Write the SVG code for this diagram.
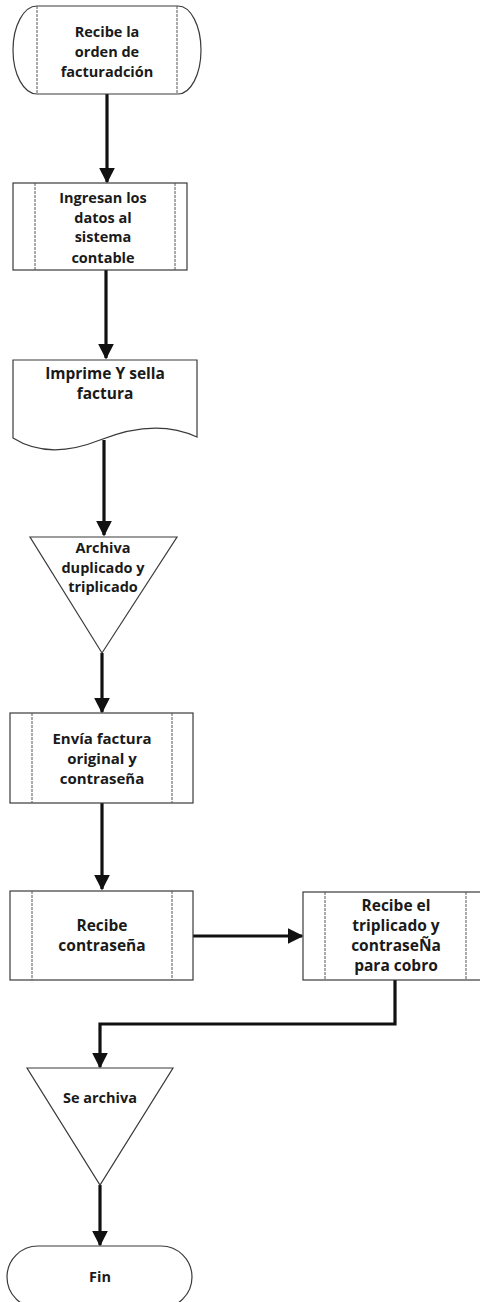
<svg xmlns="http://www.w3.org/2000/svg" width="480" height="1302" viewBox="0 0 480 1302">
  <style>
    .shape { fill: #ffffff; stroke: #3a3a3a; stroke-width: 1.2; }
    .inner { fill: none; stroke: #555555; stroke-width: 1; stroke-dasharray: 3 1; }
    .label { font-family: "Open Sans", Lato, "Liberation Sans", sans-serif; font-weight: bold; font-size: 14.5px; fill: #1a1a1a; text-anchor: middle; }
    .big { font-size: 15.5px; }
    .mid { font-size: 15px; }
    .flow { fill: none; stroke: #111111; stroke-width: 3.2; }
  </style>
  <defs>
    <marker id="arrow" viewBox="0 0 10 10" refX="9" refY="5" markerWidth="5" markerHeight="5" markerUnits="strokeWidth" orient="auto">
      <path d="M0,0 L10,5 L0,10 Z" fill="#111111"/>
    </marker>
  </defs>
  <rect width="480" height="1302" fill="#ffffff"/>

  <!-- connectors -->
  <g id="connectors">
    <path class="flow" d="M107,94 V182" marker-end="url(#arrow)"/>
    <path class="flow" d="M106,270 V358" marker-end="url(#arrow)"/>
    <path class="flow" d="M104,440 V535" marker-end="url(#arrow)"/>
    <path class="flow" d="M102,653 V712" marker-end="url(#arrow)"/>
    <path class="flow" d="M102,803 V889" marker-end="url(#arrow)"/>
    <path class="flow" d="M193,936 H302" marker-end="url(#arrow)"/>
    <path class="flow" d="M395,980 V1024 H100 V1067" marker-end="url(#arrow)"/>
    <path class="flow" d="M100,1185 V1245" marker-end="url(#arrow)"/>
  </g>

  <!-- start terminator -->
  <g id="n-recibe-orden">
    <path class="shape" d="M37,6 H178 A23,44 0 0 1 178,94 H37 A24,44 0 0 1 37,6 Z"/>
    <line class="inner" x1="37" y1="6" x2="37" y2="94"/>
    <line class="inner" x1="177" y1="6" x2="177" y2="94"/>
    <text class="label" x="107" y="37">Recibe la</text>
    <text class="label" x="107" y="57">orden de</text>
    <text class="label" x="107" y="77">facturadción</text>
  </g>

  <g id="n-ingresan">
    <rect class="shape" x="13" y="183" width="174" height="87"/>
    <line class="inner" x1="35" y1="183" x2="35" y2="270"/>
    <line class="inner" x1="175" y1="183" x2="175" y2="270"/>
    <text class="label" x="103" y="203">Ingresan los</text>
    <text class="label" x="103" y="223">datos al</text>
    <text class="label" x="103" y="242">sistema</text>
    <text class="label" x="103" y="263">contable</text>
  </g>

  <g id="n-imprime">
    <path class="shape" d="M13,360 H197 V437 C165,422 130,428 100,440 C70,452 40,455 13,438 Z"/>
    <text class="label big" x="105" y="379">Imprime Y sella</text>
    <text class="label big" x="105" y="399">factura</text>
  </g>

  <g id="n-archiva">
    <path class="shape" d="M30,537 H177 L102,653 Z"/>
    <text class="label" x="103" y="553">Archiva</text>
    <text class="label" x="103" y="573">duplicado y</text>
    <text class="label" x="103" y="592">triplicado</text>
  </g>

  <g id="n-envia">
    <rect class="shape" x="10" y="713" width="183" height="90"/>
    <line class="inner" x1="32" y1="713" x2="32" y2="803"/>
    <line class="inner" x1="172" y1="713" x2="172" y2="803"/>
    <text class="label mid" x="102" y="744">Envía factura</text>
    <text class="label mid" x="102" y="764">original y</text>
    <text class="label mid" x="102" y="784">contraseña</text>
  </g>

  <g id="n-recibe-contrasena">
    <rect class="shape" x="10" y="891" width="183" height="89"/>
    <line class="inner" x1="32" y1="891" x2="32" y2="980"/>
    <line class="inner" x1="172" y1="891" x2="172" y2="980"/>
    <text class="label big" x="102" y="931">Recibe</text>
    <text class="label big" x="102" y="951">contraseña</text>
  </g>

  <g id="n-recibe-triplicado">
    <rect class="shape" x="303" y="892" width="190" height="88"/>
    <line class="inner" x1="325" y1="892" x2="325" y2="980"/>
    <line class="inner" x1="466" y1="892" x2="466" y2="980"/>
    <text class="label big" x="396" y="911">Recibe el</text>
    <text class="label big" x="396" y="931">triplicado y</text>
    <text class="label big" x="396" y="951">contraseÑa</text>
    <text class="label big" x="396" y="971">para cobro</text>
  </g>

  <g id="n-se-archiva">
    <path class="shape" d="M27,1068 H173 L100,1185 Z"/>
    <text class="label" x="100" y="1103">Se archiva</text>
  </g>

  <g id="n-fin">
    <path class="shape" d="M38,1246 H161 A31,31 0 0 1 161,1308 H38 A31,31 0 0 1 38,1246 Z"/>
    <text class="label" x="100" y="1282">Fin</text>
  </g>
</svg>
